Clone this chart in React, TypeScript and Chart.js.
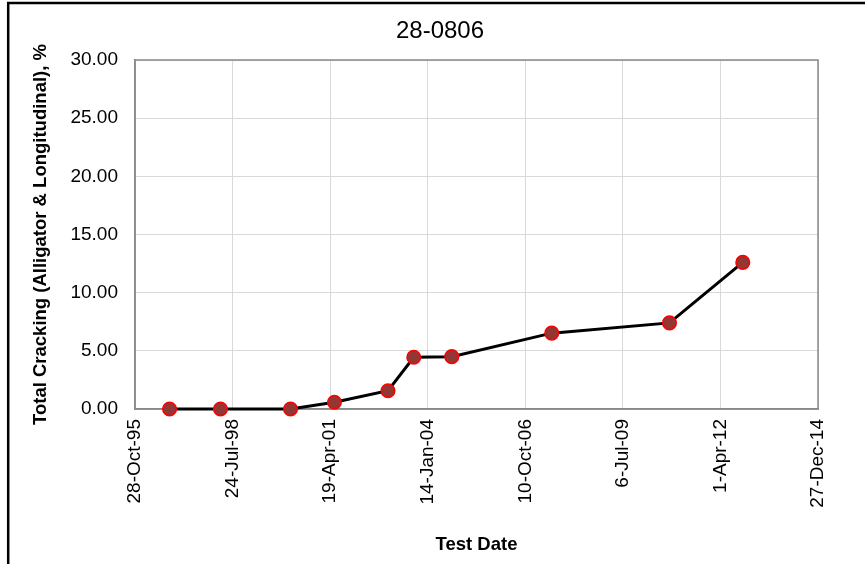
import React, { useEffect, useRef } from "react";
import { Chart, registerables } from "chart.js";

Chart.register(...registerables);

const chartTitle = "28-0806";
const xAxisTitle = "Test Date";
const yAxisTitle = "Total Cracking (Alligator & Longitudinal), %";

// survey dates
const testDates = [
  "1996-10-16",
  "1998-03-22",
  "2000-03-09",
  "2001-06-02",
  "2002-12-03",
  "2003-08-24",
  "2004-09-17",
  "2007-07-08",
  "2010-10-27",
  "2012-11-16",
];
// total cracking, %
const crackingValues = [0, 0, 0, 0.58, 1.57, 4.45, 4.5, 6.52, 7.4, 12.6];

// axis ranges (Excel serial day numbers for the date axis)
const xMin = 35000;
const xMax = 42000;
const xStep = 1000;
const yMin = 0;
const yMax = 30;
const yStep = 5;

const MONTHS = ["Jan", "Feb", "Mar", "Apr", "May", "Jun", "Jul", "Aug", "Sep", "Oct", "Nov", "Dec"];
const EXCEL_EPOCH = Date.UTC(1899, 11, 30);
const DAY = 86400000;

function toSerial(iso: string): number {
  const [y, m, d] = iso.split("-").map(Number);
  return Math.round((Date.UTC(y, m - 1, d) - EXCEL_EPOCH) / DAY);
}
function serialLabel(serial: number): string {
  const dt = new Date(EXCEL_EPOCH + Math.round(serial) * DAY);
  const yy = String(dt.getUTCFullYear() % 100).padStart(2, "0");
  return `${dt.getUTCDate()}-${MONTHS[dt.getUTCMonth()]}-${yy}`;
}

const FONT = "'Liberation Sans', Arial, sans-serif";

const framePlugin = {
  id: "frame",
  beforeDraw(chart: any) {
    const ctx = chart.ctx;
    ctx.save();
    ctx.fillStyle = "#ffffff";
    ctx.fillRect(0, 0, chart.width, chart.height);
    ctx.fillStyle = "#000000";
    ctx.font = `normal 24px ${FONT}`;
    ctx.textAlign = "center";
    ctx.textBaseline = "middle";
    ctx.fillText(chartTitle, 440, 31);
    ctx.restore();
  },
  beforeDatasetsDraw(chart: any) {
    const { ctx, chartArea } = chart;
    ctx.save();
    ctx.strokeStyle = "#898989";
    ctx.lineWidth = 1.5;
    ctx.strokeRect(chartArea.left, chartArea.top, chartArea.right - chartArea.left, chartArea.bottom - chartArea.top);
    ctx.restore();
  },
  afterDraw(chart: any) {
    const ctx = chart.ctx;
    ctx.save();
    ctx.strokeStyle = "#000000";
    ctx.lineWidth = 2.5;
    ctx.beginPath();
    ctx.moveTo(7, 3);
    ctx.lineTo(chart.width + 5, 3);
    ctx.moveTo(8.2, 2);
    ctx.lineTo(8.2, chart.height + 5);
    ctx.stroke();
    ctx.restore();
  },
};

export default function App() {
  const canvasRef = useRef<HTMLCanvasElement | null>(null);

  useEffect(() => {
    if (!canvasRef.current) return;
    const points = testDates.map((d, i) => ({ x: toSerial(d), y: crackingValues[i] }));
    const chart = new Chart(canvasRef.current, {
      type: "line",
      data: {
        datasets: [
          {
            data: points,
            borderColor: "#000000",
            borderWidth: 3,
            pointRadius: 6.8,
            pointHoverRadius: 6.8,
            pointBorderWidth: 1.5,
            pointBackgroundColor: "#943634",
            pointBorderColor: "#ff0000",
            tension: 0,
            fill: false,
            clip: false as any,
          },
        ],
      },
      options: {
        responsive: false,
        animation: false,
        events: [],
        layout: { padding: { left: 0, right: 47, top: 60, bottom: 0 } },
        plugins: {
          legend: { display: false },
          tooltip: { enabled: false },
          title: { display: false },
        },
        scales: {
          x: {
            type: "linear",
            min: xMin,
            max: xMax,
            afterFit: (s: any) => {
              s.height = 155;
            },
            ticks: {
              stepSize: xStep,
              autoSkip: false,
              minRotation: 90,
              maxRotation: 90,
              padding: 10,
              color: "#000000",
              font: { family: FONT, size: 19 },
              callback: (v: any) => serialLabel(Number(v)),
            },
            grid: { color: "#d9d9d9", lineWidth: 1, drawTicks: false },
            border: { color: "#898989", width: 1.5 },
            title: {
              display: true,
              text: xAxisTitle,
              color: "#000000",
              font: { family: FONT, size: 18.5, weight: "bold" as any, lineHeight: 1.2 },
              padding: { top: 0, bottom: 8 },
            },
          },
          y: {
            type: "linear",
            min: yMin,
            max: yMax,
            afterFit: (s: any) => {
              s.width = 135;
            },
            ticks: {
              stepSize: yStep,
              padding: 17,
              color: "#000000",
              font: { family: FONT, size: 19 },
              callback: (v: any) => Number(v).toFixed(2),
            },
            grid: { color: "#d9d9d9", lineWidth: 1, drawTicks: false },
            border: { color: "#898989", width: 1.5 },
            title: {
              display: true,
              text: yAxisTitle,
              color: "#000000",
              font: { family: FONT, size: 18.5, weight: "bold" as any, lineHeight: 1.2 },
              padding: { top: 30, bottom: 0 },
            },
          },
        },
      },
      plugins: [framePlugin],
    });
    return () => chart.destroy();
  }, []);

  return (
    <div style={{ position: "fixed", left: 0, top: 0, width: 865, height: 564, background: "#fff" }}>
      <canvas ref={canvasRef} width={865} height={564} style={{ display: "block", width: 865, height: 564 }} />
    </div>
  );
}
